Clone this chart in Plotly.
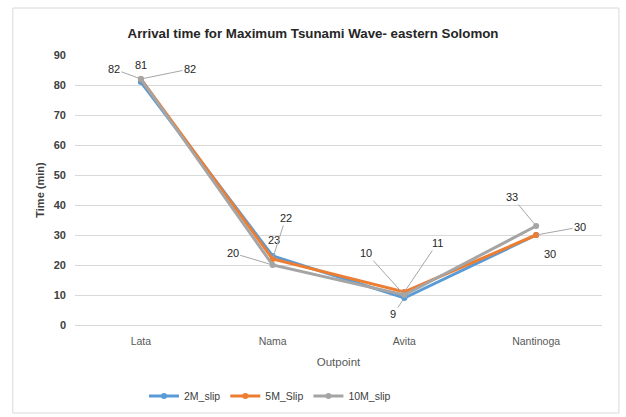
import plotly.graph_objects as go

categories = ["Lata", "Nama", "Avita", "Nantinoga"]
slip_2m = [81, 23, 9, 30]
slip_5m = [82, 22, 11, 30]
slip_10m = [82, 20, 10, 33]
series_names = ["2M_slip", "5M_Slip", "10M_slip"]
colors = ["#5b9bd5", "#ed7d31", "#a5a5a5"]

# label offsets (pixels) for each series / point, and whether a leader line is drawn
label_offsets = {
    "2M_slip": [(0, -17, False), (1, -16, False), (-11, 16, True), (14, 19, False)],
    "5M_Slip": [(-27, -10, True), (13, -41, True), (33, -49, True), (44, -8, True)],
    "10M_slip": [(49, -10, True), (-40, -12, True), (-38, -42, True), (-24, -29, True)],
}

FONT = "Liberation Sans"
series_vals = [slip_2m, slip_5m, slip_10m]

fig = go.Figure()
for name, vals, col in zip(series_names, series_vals, colors):
    fig.add_trace(go.Scatter(
        x=categories, y=vals, name=name, mode="lines+markers",
        line=dict(color=col, width=3),
        marker=dict(color=col, size=6, symbol="circle"),
    ))

annotations = []
for name, vals in zip(series_names, series_vals):
    for cat, v, (ax, ay, leader) in zip(categories, vals, label_offsets[name]):
        annotations.append(dict(
            x=cat, y=v, xref="x", yref="y", text=str(v),
            showarrow=True, ax=ax, ay=ay, axref="pixel", ayref="pixel",
            arrowhead=0, arrowwidth=1,
            arrowcolor="#a6a6a6" if leader else "rgba(0,0,0,0)",
            standoff=2,
            font=dict(family=FONT, size=11, color="#262626"),
        ))

fig.update_layout(
    width=626, height=417,
    paper_bgcolor="white", plot_bgcolor="white",
    margin=dict(l=75, r=24, t=55, b=92, autoexpand=False),
    title=dict(text="<b>Arrival time for Maximum Tsunami Wave- eastern Solomon</b>",
               x=0.5, xanchor="center", xref="container", y=1 - 33 / 417, yanchor="middle",
               font=dict(family=FONT, size=13.3, color="#262626")),
    font=dict(family=FONT, color="#595959"),
    showlegend=True,
    legend=dict(orientation="h", x=0.37, xanchor="center", y=-0.263, yanchor="middle",
                font=dict(family=FONT, size=10.5, color="#404040"),
                itemwidth=30, tracegroupgap=0),
    annotations=annotations,
    shapes=[dict(type="rect", xref="paper", yref="paper",
                 x0=-0.118, x1=1.032, y0=-0.326, y1=1.174,
                 line=dict(color="#d9d9d9", width=1), fillcolor="rgba(0,0,0,0)",
                 layer="below")],
)
fig.update_xaxes(
    type="category", range=[-0.5, 3.5], automargin=False,
    showgrid=False, showline=True, linecolor="#d9d9d9", ticks="",
    tickfont=dict(family=FONT, size=10.5, color="#595959"),
    ticklabelstandoff=6,
    title=dict(text="Outpoint", font=dict(family=FONT, size=11.5, color="#595959"), standoff=12),
)
fig.update_yaxes(
    range=[0, 90], dtick=10, showgrid=True, gridcolor="#d9d9d9", zeroline=False,
    showline=False, ticks="", automargin=False,
    tickfont=dict(family=FONT, size=11, color="#404040", weight="bold"),
    ticklabelstandoff=8,
    title=dict(text="<b>Time (min)</b>", font=dict(family=FONT, size=11, color="#404040"), standoff=6),
)

fig.write_html("out.html", config={"displayModeBar": False},
               post_script="document.body.style.margin='0';")
